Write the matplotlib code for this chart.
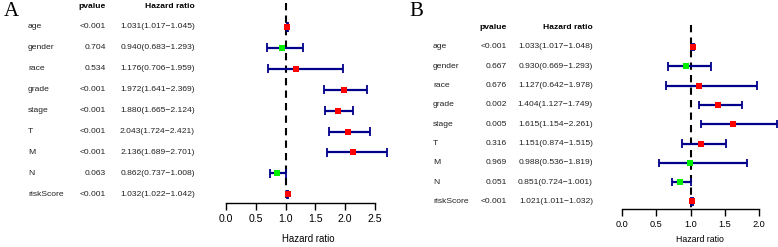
import matplotlib
matplotlib.use("Agg")
import matplotlib.pyplot as plt
import matplotlib.transforms as mtransforms

# panel A
genes = ["age", "gender", "race", "grade", "stage", "T", "M", "N", "riskScore"]
pval_a = ["<0.001", "0.704", "0.534", "<0.001", "<0.001", "<0.001", "<0.001", "0.063", "<0.001"]
hr_a = [1.031, 0.940, 1.176, 1.972, 1.880, 2.043, 2.136, 0.862, 1.032]
low_a = [1.017, 0.683, 0.706, 1.641, 1.665, 1.724, 1.689, 0.737, 1.022]
high_a = [1.045, 1.293, 1.959, 2.369, 2.124, 2.421, 2.701, 1.008, 1.042]

# panel B
pval_b = ["<0.001", "0.667", "0.676", "0.002", "0.005", "0.316", "0.969", "0.051", "<0.001"]
hr_b = [1.033, 0.930, 1.127, 1.404, 1.615, 1.151, 0.988, 0.851, 1.021]
low_b = [1.017, 0.669, 0.642, 1.127, 1.154, 0.874, 0.536, 0.724, 1.011]
high_b = [1.048, 1.293, 1.978, 1.749, 2.261, 1.515, 1.819, 1.001, 1.032]

W, H = 778, 247
FONT = ["Liberation Sans", "DejaVu Sans"]

fig = plt.figure(figsize=(W / 100, H / 100), dpi=100)


def panel(lettre, lettre_x, x0, x1, y_axe, y_row0, pas, xmax, ticks,
          col_noms, col_p, col_hr, pval, hr, low, high, tick_fs, lab_fs, lab_pad):
    n = len(genes)
    ytop = -y_row0 / pas
    ybot = (y_axe - y_row0) / pas
    ax = fig.add_axes([x0 / W, (H - y_axe) / H, (x1 - x0) / W, y_axe / H])
    ax.set_xlim(0, xmax)
    ax.set_ylim(ybot, ytop)
    ax.patch.set_alpha(0)
    for s in ["top", "right", "left"]:
        ax.spines[s].set_visible(False)
    ax.spines["bottom"].set_bounds(ticks[0], ticks[-1])
    ax.spines["bottom"].set_linewidth(1.0)
    ax.set_yticks([])
    ax.set_xticks(ticks)
    ax.set_xticklabels([f"{t:.1f}" for t in ticks], fontsize=tick_fs, family=FONT)
    ax.tick_params(axis="x", direction="out", length=5, width=1.0, pad=3)
    ax.set_xlabel("Hazard ratio", fontsize=lab_fs, family=FONT, labelpad=lab_pad)

    ax.vlines(1, -1.15, ybot, colors="black", linestyles=(0, (3.5, 2.5)), linewidth=1.5)

    rows = list(range(n))
    ax.hlines(rows, low, high, colors="darkblue", linewidth=1.6)
    ax.vlines(low, [r - 0.22 for r in rows], [r + 0.22 for r in rows], colors="darkblue", linewidth=1.3)
    ax.vlines(high, [r - 0.22 for r in rows], [r + 0.22 for r in rows], colors="darkblue", linewidth=1.3)
    couleurs = ["red" if v > 1 else "#00ee00" for v in hr]
    for r, v, c in zip(rows, hr, couleurs):
        ax.plot(v, r, marker="s", markersize=4.6, color=c, markeredgewidth=0, clip_on=False)

    trans = mtransforms.blended_transform_factory(fig.transFigure, ax.transData)
    fs = 6.1
    ax.text(col_p / W, -1, "pvalue", transform=trans, ha="right", va="center",
            fontsize=fs, fontweight="bold", family=FONT)
    ax.text(col_hr / W, -1, "Hazard ratio", transform=trans, ha="right", va="center",
            fontsize=fs, fontweight="bold", family=FONT)
    for r in rows:
        ax.text(col_noms / W, r, genes[r], transform=trans, ha="left", va="center",
                fontsize=fs, family=FONT, color="#222222")
        ax.text(col_p / W, r, pval[r], transform=trans, ha="right", va="center",
                fontsize=fs, family=FONT, color="#222222")
        txt = f"{hr[r]:.3f}({low[r]:.3f}\u2212{high[r]:.3f})"
        ax.text(col_hr / W, r, txt, transform=trans, ha="right", va="center",
                fontsize=fs, family=FONT, color="#222222")

    fig.text(lettre_x / W, 1 - 11 / H, lettre, ha="left", va="center",
             fontsize=15, family=["Liberation Serif", "DejaVu Serif"])
    return ax


panel("A", 4, 226, 390, 203, 27, 20.9, 164 / 59.6, [0, 0.5, 1.0, 1.5, 2.0, 2.5],
      28, 106, 195, pval_a, hr_a, low_a, high_a, 7.6, 6.9, 7)
panel("B", 409, 622, 778, 209, 47, 19.3, 156 / 68.5, [0, 0.5, 1.0, 1.5, 2.0],
      433, 507, 593, pval_b, hr_b, low_b, high_b, 6.6, 6.3, 4.5)

fig.savefig("out.png", dpi=100)
